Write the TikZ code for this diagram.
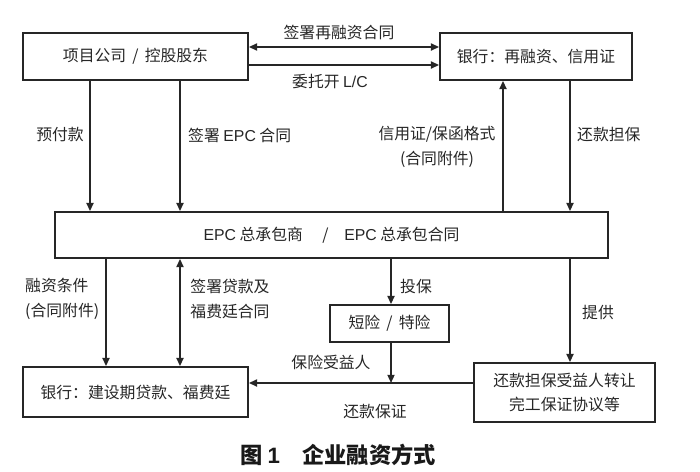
\documentclass[tikz,border=0pt]{standalone}
\usepackage{fontspec}
\setmainfont{Noto Sans CJK SC}
\newfontfamily\latinsf{Liberation Sans}
\usetikzlibrary{arrows.meta}

\begin{document}
\begin{tikzpicture}[x=0.03cm, y=0.03cm]
	\tikzstyle{every node}+=[inner sep=0pt, text=black!85, font=\fontsize{13.5}{21}\selectfont]
	\tikzstyle{box}=[draw=black!85, line width=1.5pt, align=center]
	\tikzstyle{link}=[draw=black!85, line width=1.5pt]
	\tikzset{>={Triangle[length=7pt,width=6pt]}}
	\useasboundingbox (0,0) rectangle (700,-471);
	% boxes
	\node [box, minimum width=6.75cm, minimum height=1.41cm] (proj) at (135.5,-56.5) {项目公司 \,/\, 控股股东};
	\node [box, minimum width=5.76cm, minimum height=1.41cm] (refi) at (536,-56.5) {银行：再融资、信用证};
	\node [box, minimum width=16.59cm, minimum height=1.38cm] (epc) at (331.5,-235) {{\latinsf EPC} 总承包商 \quad/\quad {\latinsf EPC} 总承包合同};
	\node [box, minimum width=6.75cm, minimum height=1.5cm] (loan) at (135.5,-392) {银行：建设期贷款、福费廷};
	\node [box, minimum width=3.57cm, minimum height=1.11cm] (ins) at (389.5,-323.5) {短险 \,/\, 特险};
	\node [box, minimum width=5.43cm, minimum height=1.77cm] (guar) at (564.5,-392.5) {还款担保受益人转让\\完工保证协议等};
	\coordinate (join) at (391,-383);
	% top links
	\draw [link, <->] (proj.east |- 0,-47) -- (refi.west |- 0,-47);
	\draw [link, ->] (proj.east |- 0,-65) -- (refi.west |- 0,-65);
	\node (sign) at (339,-32) {签署再融资合同};
	\node (lc) at (330,-82) {委托开 {\latinsf L/C}};
	% project to EPC
	\draw [link, ->] (proj.south -| 90,0) -- (epc.north -| 90,0);
	\draw [link, ->] (proj.south -| 180,0) -- (epc.north -| 180,0);
	\node [anchor=east] (pay) at (84,-135) {预付款};
	\node [anchor=west] (epcsign) at (188,-135) {签署 {\latinsf EPC} 合同};
	% EPC and refinancing bank
	\draw [link, ->] (epc.north -| 503,0) -- (refi.south -| 503,0);
	\draw [link, ->] (refi.south -| 570,0) -- (epc.north -| 570,0);
	\node [align=center] (form) at (437,-147) {信用证/保函格式\\(合同附件)};
	\node [anchor=west] (repay) at (577,-135) {还款担保};
	% EPC and loan bank
	\draw [link, ->] (epc.south -| 106,0) -- (loan.north -| 106,0);
	\draw [link, <->] (epc.south -| 180,0) -- (loan.north -| 180,0);
	\node [align=left, anchor=west] (cond) at (25,-299) {融资条件\\(合同附件)};
	\node [align=center] (loansign) at (230,-299) {签署贷款及\\福费廷合同};
	% insurance and guarantee
	\draw [link, ->] (epc.south -| 391,0) -- (ins.north -| 391,0);
	\node [anchor=west] (buy) at (400,-286) {投保};
	\draw [link, ->] (ins.south -| 391,0) -- (join);
	\node (benef) at (331,-362) {保险受益人};
	\draw [link, ->] (epc.south -| 570,0) -- (guar.north -| 570,0);
	\node [anchor=west] (give) at (582,-312) {提供};
	\draw [link, ->] (guar.west |- join) -- (loan.east |- join);
	\node (assure) at (375,-411) {还款保证};
	% caption
	\node [font=\fontsize{19}{22}\bfseries, text=black!90] (cap) at (338,-455) {图 {\latinsf 1}\quad 企业融资方式};
\end{tikzpicture}
\end{document}
